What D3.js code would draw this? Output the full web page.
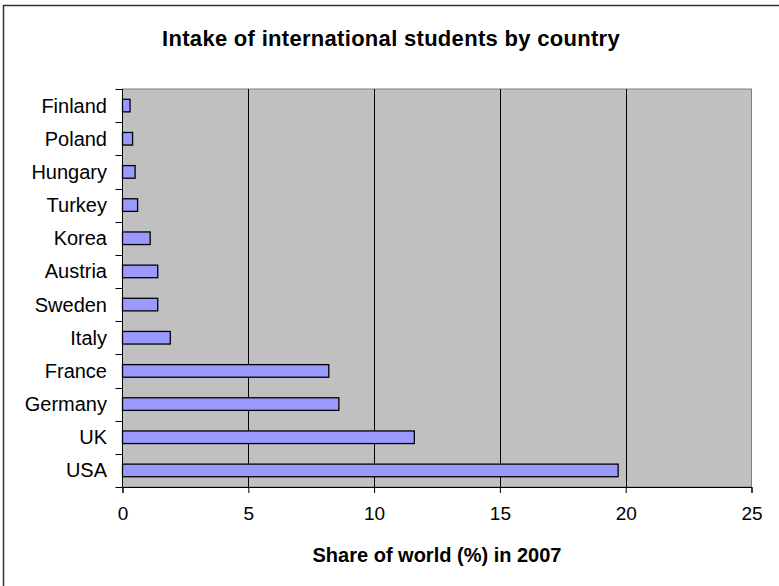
<!DOCTYPE html>
<html>
<head>
<meta charset="utf-8">
<script src="https://cdn.jsdelivr.net/npm/d3@7"></script>
<style>
  body { margin: 0; background: #fff; }
  svg { display: block; font-family: "Liberation Sans", Arial, sans-serif; }
</style>
</head>
<body>
<div class="chart"></div>
<script>
const countries = ["USA", "UK", "Germany", "France", "Italy", "Sweden", "Austria", "Korea", "Turkey", "Hungary", "Poland", "Finland"];
const shares = [19.7, 11.6, 8.6, 8.2, 1.9, 1.4, 1.4, 1.1, 0.6, 0.5, 0.4, 0.3];
const xTicks = [0, 5, 10, 15, 20, 25];

const svgWidth = 779;
const svgHeight = 586;
const plotLeft = 122.5, plotRight = 751.5, plotTop = 89, plotBottom = 487;

const svg = d3.select(".chart")
              .append("svg")
              .attr("width", svgWidth)
              .attr("height", svgHeight);

// outer frame (right and bottom edges fall outside the picture)
svg.append("rect")
   .attr("x", 3.5).attr("y", 5.5)
   .attr("width", svgWidth + 10).attr("height", svgHeight + 10)
   .attr("fill", "#fff")
   .attr("stroke", "#333")
   .attr("stroke-width", 1.5);

const xScale = d3.scaleLinear()
                 .domain([0, 25])
                 .range([plotLeft, plotRight]);

const yScale = d3.scaleBand()
                 .domain(countries)
                 .range([plotBottom, plotTop])
                 .paddingInner(0.62)
                 .paddingOuter(0.31);

const yBand = d3.scaleBand()
                .domain(countries)
                .range([plotBottom, plotTop]);

// plot area
svg.append("rect")
   .attr("x", plotLeft).attr("y", plotTop)
   .attr("width", plotRight - plotLeft).attr("height", plotBottom - plotTop)
   .attr("fill", "#c0c0c0")
   .attr("stroke", "#808080")
   .attr("stroke-width", 1);

// vertical gridlines
svg.selectAll("line.grid")
   .data(xTicks.slice(1, -1))
   .enter()
   .append("line")
   .attr("class", "grid")
   .attr("x1", d => Math.round(xScale(d)) + 0.5)
   .attr("x2", d => Math.round(xScale(d)) + 0.5)
   .attr("y1", plotTop)
   .attr("y2", plotBottom)
   .attr("stroke", "#000")
   .attr("stroke-width", 1);

// bars
svg.selectAll("rect.bar")
   .data(countries)
   .enter()
   .append("rect")
   .attr("class", "bar")
   .attr("x", xScale(0))
   .attr("y", d => yScale(d))
   .attr("width", (d, i) => xScale(shares[i]) - xScale(0))
   .attr("height", yScale.bandwidth())
   .attr("fill", "#9999ff")
   .attr("stroke", "#000")
   .attr("stroke-width", 1.3);

// x axis
const xAxis = d3.axisBottom(xScale)
                .tickValues(xTicks)
                .tickSize(6)
                .tickPadding(14);

const gx = svg.append("g")
              .attr("transform", "translate(0," + plotBottom + ")")
              .call(xAxis);
gx.select(".domain").attr("stroke", "#000");
gx.selectAll(".tick line").attr("stroke", "#000");
gx.selectAll(".tick text")
  .attr("font-size", "19px")
  .attr("font-family", "Liberation Sans, Arial, sans-serif")
  .attr("fill", "#000");

// y axis: ticks at category boundaries
const gy = svg.append("g");
gy.append("line")
  .attr("x1", plotLeft).attr("x2", plotLeft)
  .attr("y1", plotTop).attr("y2", plotBottom)
  .attr("stroke", "#000");
gy.selectAll("line.ytick")
  .data(countries.concat(["end"]))
  .enter()
  .append("line")
  .attr("class", "ytick")
  .attr("x1", plotLeft - 7).attr("x2", plotLeft)
  .attr("y1", (d, i) => Math.round(plotBottom - i * yBand.step()) + 0.5)
  .attr("y2", (d, i) => Math.round(plotBottom - i * yBand.step()) + 0.5)
  .attr("stroke", "#000");

gy.selectAll("text")
  .data(countries)
  .enter()
  .append("text")
  .attr("x", 107)
  .attr("y", d => yBand(d) + yBand.bandwidth() / 2)
  .attr("dy", "0.35em")
  .attr("text-anchor", "end")
  .attr("font-size", "20px")
  .attr("fill", "#000")
  .text(d => d);

// titles
svg.append("text")
   .attr("x", 391)
   .attr("y", 46)
   .attr("text-anchor", "middle")
   .attr("font-size", "22px")
   .attr("font-weight", "bold")
   .attr("letter-spacing", "0.3px")
   .text("Intake of international students by country");

svg.append("text")
   .attr("x", (plotLeft + plotRight) / 2)
   .attr("y", 562)
   .attr("text-anchor", "middle")
   .attr("font-size", "20px")
   .attr("font-weight", "bold")
   .text("Share of world (%) in 2007");
</script>
</body>
</html>
